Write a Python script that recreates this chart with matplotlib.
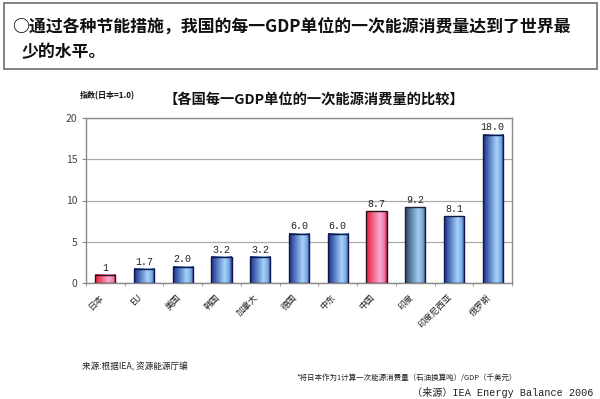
import numpy as np
import matplotlib.pyplot as plt
from matplotlib.colors import LinearSegmentedColormap
from matplotlib.patches import Rectangle

plt.rcParams['font.family'] = ['Noto Sans CJK SC', 'DejaVu Sans']

# Data
countries = ['日本', 'EU', '美国', '韩国', '加拿大', '德国', '中东', '中国', '印度', '印度尼西亚', '俄罗斯']
values = [1.0, 1.7, 2.0, 3.2, 3.2, 6.0, 6.0, 8.7, 9.2, 8.1, 18.0]
value_labels = ['1', '1.7', '2.0', '3.2', '3.2', '6.0', '6.0', '8.7', '9.2', '8.1', '18.0']
styles = ['pink', 'blue', 'blue', 'blue', 'blue', 'blue', 'blue', 'pink', 'slate', 'blue', 'blue']
y_ticks = [0, 5, 10, 15, 20]

# Horizontal gradients imitating the 3D-cylinder look of the original bars
cmaps = {
    'blue': LinearSegmentedColormap.from_list('blue', [
        (0.0, '#1e2c74'), (0.15, '#3556a8'), (0.65, '#a6d2fa'), (0.87, '#78a8e4'), (1.0, '#283a88')]),
    'pink': LinearSegmentedColormap.from_list('pink', [
        (0.0, '#e4203c'), (0.2, '#f04666'), (0.65, '#f8aad2'), (0.87, '#ee80b0'), (1.0, '#c82448')]),
    'slate': LinearSegmentedColormap.from_list('slate', [
        (0.0, '#2e4058'), (0.2, '#50708e'), (0.65, '#a0cef4'), (0.87, '#78a4d4'), (1.0, '#34486a')]),
}
edge_colors = {'blue': '#101848', 'pink': '#301018', 'slate': '#182438'}

fig = plt.figure(figsize=(6, 3.99), dpi=100)

# Header box with the key message
fig.patches.append(Rectangle((4 / 600, 1 - 69 / 399), 593 / 600, 66 / 399,
                             transform=fig.transFigure, fill=False,
                             edgecolor='#7a7a7a', linewidth=1.3))
fig.text(12 / 600, 1 - 27 / 399, '○通过各种节能措施，我国的每一GDP单位的一次能源消费量达到了世界最',
         fontsize=12.2, fontweight='bold', va='center', ha='left', color='#111111')
fig.text(22 / 600, 1 - 52 / 399, '少的水平。',
         fontsize=12.2, fontweight='bold', va='center', ha='left', color='#111111')

ax = fig.add_axes([86 / 600, 1 - 283 / 399, 426 / 600, 165 / 399])

width = 0.52
x = np.arange(len(countries))
grad = np.linspace(0, 1, 64).reshape(1, -1)
for xi, v, st, lbl in zip(x, values, styles, value_labels):
    ax.imshow(grad, cmap=cmaps[st], aspect='auto', interpolation='bilinear',
              extent=[xi - width / 2, xi + width / 2, 0, v], zorder=2)
    ax.bar(xi, v, width=width, facecolor='none', edgecolor=edge_colors[st],
           linewidth=1.0, zorder=3)
    ax.text(xi, v + 0.25, lbl, ha='center', va='bottom', fontsize=7.2,
            family=['Liberation Mono', 'DejaVu Sans'], color='#222222', zorder=4)

ax.set_xlim(-0.5, len(countries) - 0.5)
ax.set_ylim(0, 20)
ax.set_yticks(y_ticks)
ax.set_yticklabels([str(t) for t in y_ticks], fontsize=7.5, color='#444444')
ax.yaxis.grid(True, color='#aaaaaa', linewidth=0.9, zorder=0)
ax.set_axisbelow(True)

ax.set_xticks(x)
ax.set_xticklabels(countries, rotation=45, ha='right', va='top', fontsize=6.3, color='#222222')
ax.set_xticks(np.arange(-0.5, len(countries)), minor=True)
ax.tick_params(axis='x', which='major', length=0, pad=7)
ax.tick_params(axis='x', which='minor', length=2.5, color='#888888')
ax.tick_params(axis='y', length=3, color='#888888', pad=3)
for sp in ax.spines.values():
    sp.set_color('#8a8a8a')
    sp.set_linewidth(1.0)

# Titles and notes
fig.text(314 / 600, 1 - 100 / 399, '【各国每一GDP单位的一次能源消费量的比较】',
         fontsize=10.3, fontweight='bold', ha='center', va='center', color='#111111')
fig.text(80 / 600, 1 - 96 / 399, '指数(日本=1.0)', fontsize=5.8, fontweight='bold',
         ha='left', va='center', color='#111111')
fig.text(82 / 600, 1 - 367 / 399, '来源:根据IEA, 资源能源厅编', fontsize=6.2,
         ha='left', va='center', color='#222222')
fig.text(297 / 600, 1 - 378 / 399, '*将日本作为1计算一次能源消费量（石油换算吨）/GDP（千美元）',
         fontsize=5.4, ha='left', va='center', color='#222222')
fig.text(593 / 600, 1 - 393 / 399, '（来源）IEA Energy Balance 2006', fontsize=7.3,
         family=['Liberation Mono', 'Noto Sans CJK SC'], ha='right', va='center', color='#222222')

fig.savefig('out.png', dpi=100, facecolor='white')
